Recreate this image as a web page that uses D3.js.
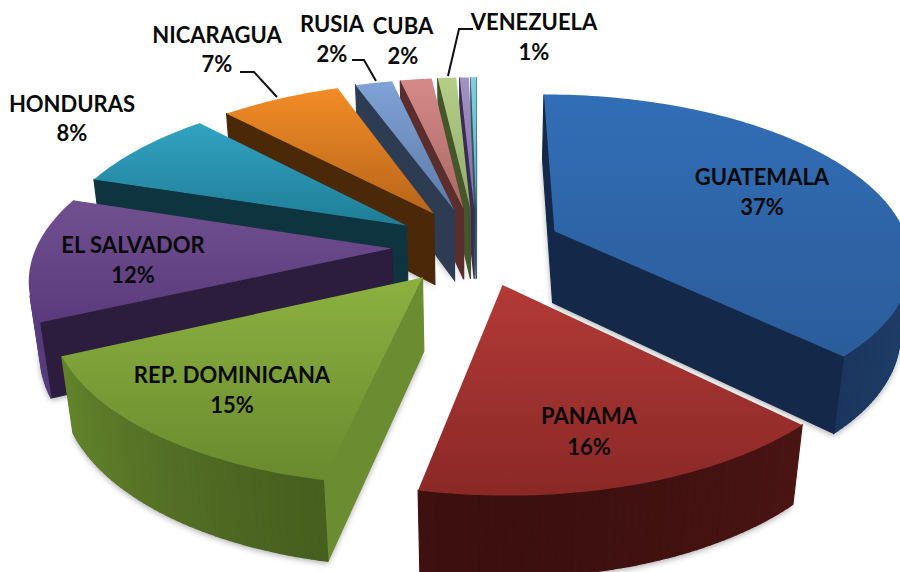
<!DOCTYPE html>
<html>
<head>
<meta charset="utf-8">
<script src="https://cdn.jsdelivr.net/npm/d3@7"></script>
<style>
  html, body { margin: 0; padding: 0; background: #fff; }
  svg { display: block; }
  .label { font-family: Lato, "Open Sans", sans-serif; font-weight: 700; font-size: 22px; fill: #0a0a0a; text-anchor: middle; }
</style>
</head>
<body>
<div id="chart"></div>
<script>
// chart values (the two small unnamed slices have no label)
var countries = ["GUATEMALA", "PANAMA", "REP. DOMINICANA", "EL SALVADOR", "HONDURAS", "NICARAGUA", "RUSIA", "CUBA", "VENEZUELA"];
var percents = ["37%", "16%", "15%", "12%", "8%", "7%", "2%", "2%", "1%"];
var shares = [37.4, 15.8, 14.8, 11.9, 8, 6.5, 2, 1.7, 1, 0.5, 0.3];

// colours per slice
var topLight = ["#326eb6", "#b23a37", "#8cb140", "#70508f", "#32a3c2", "#f28c26", "#80a2d6", "#d48a88", "#b5cf89", "#a592c4", "#80cfe4"];
var topDark = ["#2a5c9a", "#8a2826", "#6a8a2e", "#5a3a7c", "#1f7d96", "#b8651a", "#5c7ca8", "#ab6864", "#90aa6c", "#7f6ea0", "#5fa8bc"];
var sideColour = ["#14294a", "#4a1413", "#6b8c30", "#2c1c3e", "#0e343f", "#4b2808", "#2e3c53", "#5a2e2c", "#44562a", "#3a2c52", "#2e5a66"];
var rimDark = ["#14294a", "#3c100f", "#435a1d", "#2c1c3e", "#0e343f", "#4b2808", "#2e3c53", "#5a2e2c", "#44562a", "#3a2c52", "#2e5a66"];
var rimLight = ["#1f3f6b", "#541716", "#68892e", "#5c3f84", "#1c6d84", "#8a4c12", "#4a6288", "#8a5250", "#6c8444", "#5c4a80", "#4c8aa0"];

// label anchors and the leader lines are placed by hand, like the original
var labelSpots = [[762, 185, 215], [589, 424, 455], [232, 383, 413], [133, 253, 283], [72, 112, 141], [217, 43, 72], [332, 32, 62], [403, 34, 64], [534, 30, 60]];
var leaders = [
  [[240, 72], [254, 72], [277, 97]],
  [[352, 60], [364, 60], [376, 81]],
  [[473, 29], [459, 29], [448, 76]]
];

var width = 900, height = 572;
var centre = {x: 477, y: 246};
var explode = 0.24;     // slice offset, in pie radii
var persp = 0.16;       // nearer points get bigger
var depthPersp = 0.025; // bottom of the pie is a little further away
var depth = 74;
var xScale = d3.scaleLinear().domain([0, 1]).range([0, 355]);
var yScale = d3.scaleLinear().domain([0, 1]).range([0, 163]);

// u to the right, v towards the viewer, z 0 on top and 1 at the bottom
function project(u, v, z) {
  var s = 1 / (1 - persp * v + depthPersp * z);
  return [centre.x + xScale(u) * s, centre.y + (yScale(v) + depth * z) * s];
}

var pie = d3.pie().sort(null).value(function(d) { return d; });
var arcs = pie(shares);

var slices = arcs.map(function(a, i) {
  var mid = (a.startAngle + a.endAngle) / 2;
  var ox = explode * Math.sin(mid), oy = -explode * Math.cos(mid);
  var pts = [[ox, oy]];
  var n = Math.max(2, Math.ceil((a.endAngle - a.startAngle) / 0.02));
  d3.range(n + 1).forEach(function(k) {
    var t = a.startAngle + (a.endAngle - a.startAngle) * k / n;
    pts.push([ox + Math.sin(t), oy - Math.cos(t)]);
  });
  return {i: i, mid: mid, v: oy, start: a.startAngle, end: a.endAngle, pts: pts, n: n};
});

var svg = d3.select("#chart").append("svg")
  .attr("width", width)
  .attr("height", height)
  .attr("viewBox", "0 0 " + width + " " + height);

var defs = svg.append("defs");
defs.append("filter")
  .attr("id", "soft")
  .attr("x", "-20%").attr("y", "-20%").attr("width", "140%").attr("height", "140%")
  .append("feGaussianBlur").attr("stdDeviation", 3);

slices.forEach(function(s) {
  var g = defs.append("linearGradient")
    .attr("id", "top" + s.i)
    .attr("x1", 0).attr("y1", 0).attr("x2", 0).attr("y2", 1);
  g.append("stop").attr("offset", "0%").attr("stop-color", topLight[s.i]);
  g.append("stop").attr("offset", "100%").attr("stop-color", topDark[s.i]);
});

var line = d3.line();
function closedPath(p) { return line(p) + "Z"; }

// shadows first, under everything
svg.append("g").selectAll("path")
  .data(slices)
  .enter().append("path")
  .attr("d", function(s) {
    return closedPath(s.pts.map(function(p) {
      var q = project(p[0], p[1], 1);
      return [q[0], q[1] + 2];
    }));
  })
  .attr("fill", "#000")
  .attr("opacity", 0.35)
  .attr("filter", "url(#soft)");

// far slices first
var ordered = slices.slice().sort(function(a, b) { return a.v - b.v; });

ordered.forEach(function(s) {
  var g = svg.append("g").attr("class", "slice");
  var upper = s.pts.map(function(p) { return project(p[0], p[1], 0); });
  var lower = s.pts.map(function(p) { return project(p[0], p[1], 1); });
  var rim = d3.interpolateRgb(rimDark[s.i], rimLight[s.i]);

  upper.forEach(function(p, k) {
    var next = (k + 1) % upper.length;
    var quad = [p, upper[next], lower[next], lower[k]];
    if (d3.polygonArea(quad) <= 0) return; // wall faces away
    var colour = sideColour[s.i];
    if (k > 0 && k < upper.length - 1) {
      var t = s.start + (s.end - s.start) * (k - 0.5) / s.n;
      colour = rim(Math.pow(Math.abs(Math.sin(t)), 1.5));
    }
    g.append("path")
      .attr("d", closedPath(quad))
      .attr("fill", colour)
      .attr("stroke", colour)
      .attr("stroke-width", 1.2);
  });

  g.append("path")
    .attr("d", closedPath(upper))
    .attr("fill", "url(#top" + s.i + ")");
});

// leader lines
svg.append("g").selectAll("path")
  .data(leaders)
  .enter().append("path")
  .attr("d", line)
  .attr("fill", "none")
  .attr("stroke", "#111")
  .attr("stroke-width", 2);

// labels
var labels = svg.append("g").selectAll("g")
  .data(labelSpots)
  .enter().append("g");

labels.append("text")
  .attr("class", "label")
  .attr("x", function(d) { return d[0]; })
  .attr("y", function(d) { return d[1]; })
  .text(function(d, i) { return countries[i]; });

labels.append("text")
  .attr("class", "label")
  .attr("x", function(d) { return d[0]; })
  .attr("y", function(d) { return d[2]; })
  .text(function(d, i) { return percents[i]; });
</script>
</body>
</html>
